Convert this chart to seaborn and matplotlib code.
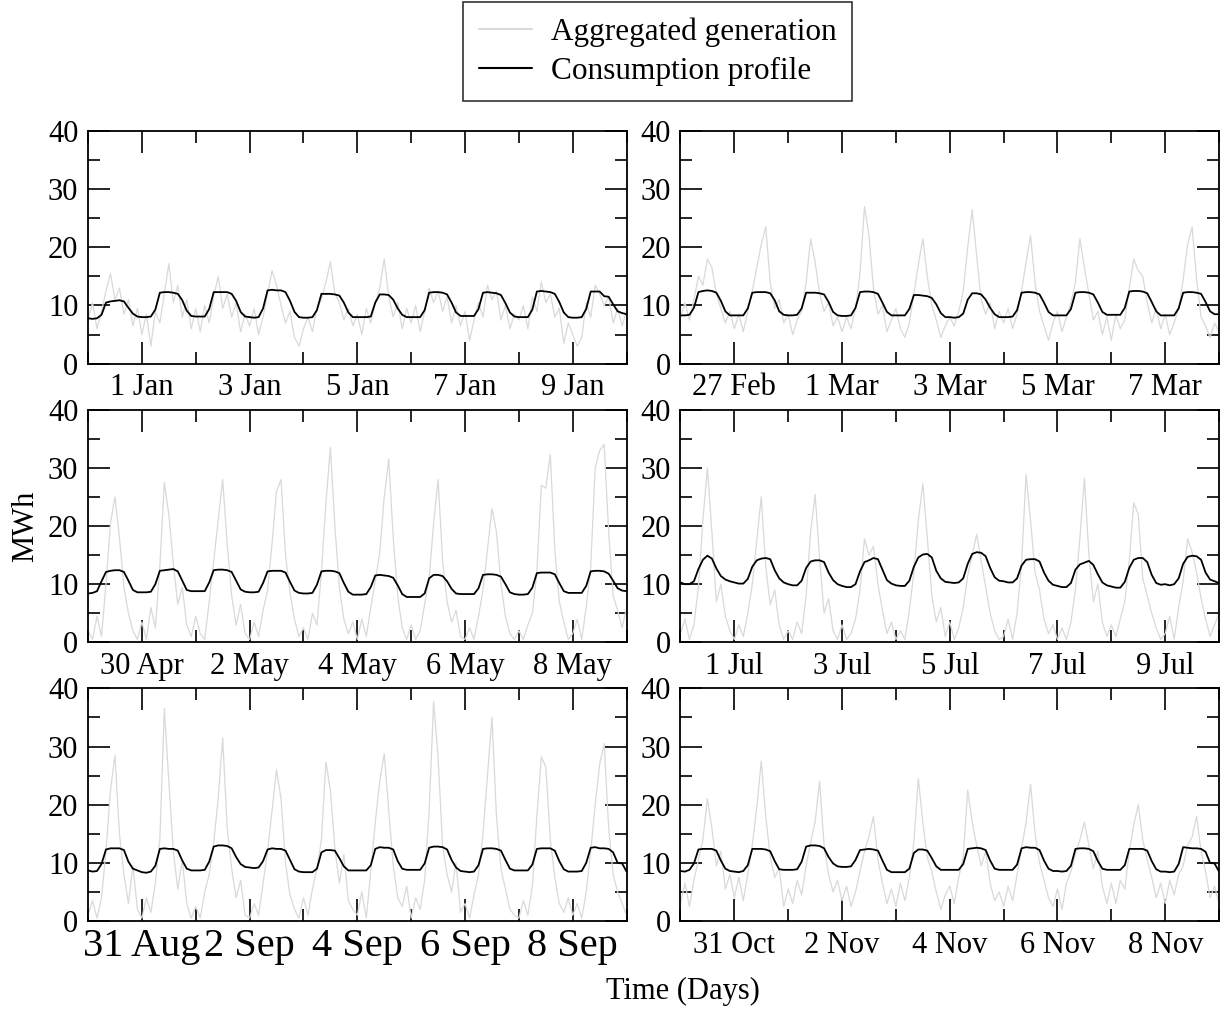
import numpy as np
import pandas as pd
import matplotlib
matplotlib.use("Agg")
import matplotlib.pyplot as plt
import matplotlib.dates as mdates
import seaborn as sns

# first day of each 10-day window, values are 2-hourly (12 per day + closing point)
starts = ["2009-12-31", "2010-02-26", "2010-04-29", "2010-06-30", "2010-08-30", "2010-10-30"]
series_names = ["Aggregated generation", "Consumption profile"]

jan_gen = [
    7.5, 10.5, 6.0, 9.0, 12.5, 15.5, 11.0, 13.0, 8.5, 11.0, 6.5, 9.5,
    5.0, 8.5, 3.0, 9.0, 7.0, 12.0, 17.2, 10.5, 13.5, 8.0, 11.0, 6.0,
    9.5, 5.5, 10.0, 7.0, 11.5, 15.0, 9.5, 12.0, 8.0, 10.5, 5.5, 8.5,
    6.5, 9.5, 5.0, 8.0, 12.0, 16.0, 13.5, 10.0, 7.0, 9.0, 4.5, 3.0,
    6.0, 8.0, 5.5, 9.5, 11.0, 14.0, 17.5, 12.0, 10.5, 7.5, 9.5, 6.5,
    8.5, 5.0, 9.5, 7.0, 10.5, 13.0, 18.0, 11.5, 8.0, 10.5, 6.0, 9.5,
    7.0, 10.0, 5.5, 9.0, 13.0, 10.5, 12.5, 9.0, 11.5, 7.0, 10.0, 6.5,
    9.0, 4.0, 7.5, 10.5, 8.0, 13.5, 11.0, 12.5, 7.5, 10.0, 6.0, 8.5,
    7.5, 10.0, 6.0, 11.5, 9.0, 14.0, 10.5, 12.0, 8.0, 9.5, 3.5, 7.0,
    5.0, 3.0, 4.5, 10.5, 8.0, 13.5, 12.0, 10.0, 11.5, 7.0, 9.5, 6.5,
    9.0,
]
jan_cons = [
    7.8, 7.7, 7.8, 8.4, 10.5, 10.7, 10.8, 10.9, 10.7, 9.6, 8.6, 8.1,
    8.0, 8.0, 8.1, 9.3, 12.2, 12.3, 12.3, 12.2, 12.0, 10.9, 9.1, 8.2,
    8.1, 8.1, 8.1, 9.4, 12.3, 12.3, 12.3, 12.3, 12.0, 10.8, 8.9, 8.1,
    8.0, 7.9, 8.0, 9.5, 12.6, 12.7, 12.6, 12.6, 12.3, 10.8, 8.9, 8.0,
    7.9, 7.9, 8.0, 9.2, 12.0, 12.0, 12.0, 11.9, 11.7, 10.5, 8.8, 8.0,
    8.0, 8.0, 8.0, 8.1, 10.5, 11.9, 11.9, 11.8, 11.0, 9.5, 8.4, 8.0,
    8.0, 8.0, 8.0, 9.2, 12.2, 12.3, 12.3, 12.2, 11.9, 10.5, 8.8, 8.2,
    8.2, 8.2, 8.2, 9.4, 12.2, 12.3, 12.2, 12.1, 11.8, 10.4, 8.8, 8.1,
    8.0, 8.0, 8.0, 9.3, 12.4, 12.5, 12.4, 12.3, 12.0, 10.6, 8.8, 8.0,
    7.9, 7.9, 8.0, 9.4, 12.4, 12.4, 12.4, 11.6, 11.5, 10.2, 9.0, 8.7,
    8.5,
]

feb_gen = [
    8.0, 10.5, 7.5, 11.0, 15.0, 13.5, 18.0, 16.5, 12.0, 9.5, 7.0, 9.0,
    6.0, 8.5, 5.5, 9.0, 12.5, 16.5, 20.5, 23.5, 14.0, 9.5, 11.0, 7.0,
    8.5, 5.0, 7.5, 9.0, 14.0, 21.5, 17.5, 12.0, 9.0, 10.5, 6.5, 8.0,
    5.5, 8.0, 6.0, 9.5, 15.5, 27.0, 22.0, 13.0, 8.5, 10.0, 5.5, 7.5,
    9.5, 6.0, 4.5, 7.0, 12.0, 17.0, 21.5, 15.0, 10.0, 7.5, 4.5, 6.5,
    8.0, 6.5, 9.0, 12.5, 20.0, 26.5, 18.5, 11.0, 8.5, 10.5, 6.0, 9.0,
    7.0, 9.5, 6.0, 8.5, 12.5, 17.5, 22.0, 14.0, 9.0, 6.5, 4.0, 7.0,
    9.0, 5.5, 8.0, 10.5, 14.0, 21.5, 16.5, 12.0, 7.5, 9.0, 5.0, 8.0,
    4.0, 8.5, 6.0, 7.5, 13.0, 18.0, 16.0, 15.0, 10.5, 7.0, 9.5, 6.0,
    8.5, 5.0, 7.0, 9.5, 14.5, 20.5, 23.5, 14.5, 8.0, 6.5, 4.5, 7.0,
    5.5,
]
feb_cons = [
    8.3, 8.3, 8.4, 9.6, 12.3, 12.5, 12.6, 12.5, 12.2, 10.8, 9.0, 8.3,
    8.3, 8.3, 8.3, 9.5, 12.2, 12.3, 12.3, 12.3, 12.1, 10.9, 9.0, 8.4,
    8.3, 8.3, 8.4, 9.5, 12.2, 12.2, 12.2, 12.1, 11.9, 10.6, 8.9, 8.3,
    8.2, 8.2, 8.3, 9.6, 12.3, 12.4, 12.4, 12.3, 12.0, 10.5, 8.9, 8.3,
    8.3, 8.3, 8.3, 9.4, 11.8, 11.8, 11.7, 11.6, 11.3, 10.2, 8.7, 8.0,
    8.0, 7.9, 8.0, 8.6, 11.0, 12.1, 12.1, 11.9, 11.0, 9.6, 8.5, 8.0,
    8.0, 8.0, 8.1, 9.2, 12.2, 12.3, 12.3, 12.2, 11.9, 10.5, 8.9, 8.3,
    8.3, 8.3, 8.3, 9.4, 12.2, 12.3, 12.3, 12.2, 11.9, 10.5, 8.9, 8.4,
    8.4, 8.4, 8.4, 9.6, 12.4, 12.5, 12.5, 12.4, 12.1, 10.6, 9.0, 8.3,
    8.3, 8.3, 8.3, 9.5, 12.2, 12.3, 12.3, 12.2, 12.0, 10.6, 9.0, 8.5,
    8.5,
]

may_gen = [
    2.0, 0.5, 4.5, 1.0, 10.0, 20.5, 25.0, 18.0, 9.5, 5.0, 2.0, 0.5,
    3.5, 0.5, 6.0, 2.5, 13.0, 27.5, 22.0, 13.5, 6.5, 9.5, 3.0, 1.0,
    4.5, 1.5, 0.5, 7.0, 14.0, 21.0, 28.0, 17.0, 8.0, 3.0, 6.5, 1.5,
    0.5, 3.5, 1.0, 5.5, 9.0, 17.0, 26.0, 28.0, 15.0, 8.5, 4.0, 1.0,
    2.5, 0.5, 5.0, 3.0, 12.0, 24.0, 33.5, 20.0, 9.5, 4.0, 1.5, 3.5,
    0.5, 4.0, 1.0, 6.0, 10.5, 15.5, 25.0, 31.5, 18.0, 8.0, 2.5, 0.5,
    3.0, 0.5, 2.0, 6.5, 11.0, 20.5, 28.0, 14.0, 7.0, 3.5, 5.5, 1.0,
    0.5, 2.5, 0.5, 4.5, 9.0, 16.0, 23.0, 19.0, 10.0, 4.5, 1.5, 0.5,
    2.0, 0.5, 3.0, 5.0, 12.0, 27.0, 26.5, 32.3, 16.0, 7.0, 3.5, 0.5,
    1.5, 4.0, 0.5, 6.0, 13.0, 30.0, 33.0, 34.0, 19.0, 8.0, 5.5, 2.5,
    6.0,
]
may_cons = [
    8.4, 8.5, 8.8, 10.5, 12.1, 12.3, 12.4, 12.4, 12.1, 10.6, 9.0, 8.6,
    8.6, 8.6, 8.7, 10.0, 12.3, 12.4, 12.5, 12.6, 12.2, 10.6, 9.0, 8.8,
    8.8, 8.8, 8.8, 10.3, 12.4, 12.5, 12.5, 12.4, 12.1, 10.6, 9.1, 8.7,
    8.6, 8.6, 8.7, 10.2, 12.2, 12.3, 12.3, 12.3, 12.0, 10.4, 8.9, 8.5,
    8.4, 8.4, 8.5, 9.9, 12.2, 12.3, 12.3, 12.2, 11.9, 10.2, 8.7, 8.2,
    8.2, 8.2, 8.3, 9.5, 11.5, 11.6, 11.5, 11.4, 11.1, 9.8, 8.3, 7.8,
    7.8, 7.8, 7.8, 8.4, 11.0, 11.6, 11.6, 11.4, 10.5, 9.2, 8.4, 8.3,
    8.3, 8.3, 8.3, 9.3, 11.6, 11.7, 11.7, 11.6, 11.3, 10.0, 8.6, 8.3,
    8.2, 8.2, 8.3, 9.4, 11.9, 12.0, 12.0, 12.0, 11.7, 10.2, 8.8, 8.5,
    8.5, 8.5, 8.5, 9.7, 12.2, 12.3, 12.3, 12.2, 11.8, 10.6, 9.3, 8.9,
    8.8,
]

jul_gen = [
    1.5, 4.0, 0.5, 3.0, 9.5, 21.0, 30.0, 19.0, 7.0, 10.0, 4.5, 2.0,
    0.5, 3.0, 1.0, 5.0, 10.0, 17.5, 25.0, 13.0, 6.5, 9.0, 3.0, 0.5,
    2.0, 0.5, 3.5, 1.5, 8.0, 19.0, 25.4, 14.5, 5.0, 7.5, 2.0, 0.5,
    3.0, 0.5, 1.5, 4.0, 9.0, 17.8, 15.0, 16.5, 10.0, 5.5, 1.5, 3.5,
    0.5, 2.0, 0.5, 5.5, 12.0, 21.0, 27.3, 18.0, 8.0, 3.5, 6.0, 1.0,
    3.5, 0.5, 2.5, 6.0, 11.5, 15.0, 18.6, 14.0, 9.5, 5.0, 2.0, 0.5,
    1.0, 4.0, 0.5, 5.0, 13.5, 28.8, 21.0, 12.0, 9.0, 4.0, 1.5, 3.0,
    0.5, 2.5, 0.5, 3.5, 9.0, 18.0, 28.2, 15.0, 7.0, 10.0, 3.5, 1.0,
    3.0, 1.0, 4.0, 7.0, 14.0, 24.0, 22.0, 11.0, 8.0, 5.0, 2.5, 0.5,
    1.5, 4.5, 0.5, 6.0, 10.5, 17.8, 15.5, 12.0, 7.5, 4.0, 1.0, 3.0,
    5.0,
]
jul_cons = [
    10.3, 10.0, 10.0, 10.5, 12.6, 14.2, 14.9, 14.4, 12.7, 11.4, 10.8, 10.5,
    10.3, 10.1, 10.1, 10.9, 13.0, 14.1, 14.4, 14.5, 14.3, 12.4, 11.0, 10.3,
    10.0, 9.8, 9.8, 10.6, 12.8, 13.9, 14.1, 14.1, 13.8, 12.0, 10.7, 10.0,
    9.7, 9.5, 9.5, 10.0, 12.2, 13.8, 14.1, 14.5, 14.3, 12.5, 10.7, 10.1,
    9.8, 9.7, 9.7, 10.6, 13.0, 14.6, 15.1, 15.2, 14.6, 12.3, 11.0, 10.4,
    10.3, 10.2, 10.3, 11.0, 13.5, 15.2, 15.5, 15.4, 14.8, 12.8, 11.2, 10.6,
    10.5, 10.3, 10.3, 11.0, 13.2, 14.2, 14.3, 14.3, 13.9, 12.0, 10.6, 9.9,
    9.7, 9.5, 9.5, 10.2, 12.5, 13.4, 13.7, 14.0, 13.3, 11.7, 10.3, 9.8,
    9.6, 9.4, 9.4, 10.4, 12.8, 14.2, 14.5, 14.5, 13.8, 11.6, 10.2, 9.9,
    10.0, 9.8, 10.0, 11.0, 13.5, 14.7, 14.9, 14.8, 14.2, 12.0, 10.8, 10.5,
    10.2,
]

sep_gen = [
    1.0, 3.5, 0.5, 4.0, 12.0, 22.5, 28.5, 15.0, 8.0, 3.0, 9.5, 2.0,
    0.5, 4.0, 1.5, 6.5, 14.0, 36.5, 24.0, 12.0, 5.5, 10.5, 3.0, 0.5,
    2.5, 0.5, 5.0, 8.0, 13.5, 21.0, 31.5, 16.0, 9.0, 4.0, 7.0, 1.0,
    0.5, 3.0, 1.0, 6.5, 12.0, 19.0, 26.0, 21.0, 10.0, 4.5, 2.0, 0.5,
    4.0, 1.0, 5.5, 9.0, 14.0, 27.3, 22.5, 12.5, 6.5, 11.5, 3.5, 2.0,
    1.0, 5.0, 0.5, 8.5, 17.0, 24.0, 28.8, 19.0, 9.5, 4.0, 2.5, 6.0,
    0.5, 4.0, 2.0, 7.0, 19.0, 37.7, 28.0, 13.0, 8.0, 5.0, 10.0, 1.5,
    3.0, 0.5, 4.5, 8.0, 15.0, 25.0, 35.0, 18.0, 9.0, 5.5, 2.0, 1.0,
    0.5, 3.5, 1.0, 6.0, 18.0, 28.2, 26.5, 14.0, 7.5, 3.0, 1.5, 4.0,
    1.0, 3.0, 0.5, 5.0, 12.0, 20.0, 27.0, 30.5, 16.0, 8.0, 5.0, 3.0,
    1.0,
]
sep_cons = [
    8.7, 8.5, 8.6, 9.8, 12.3, 12.5, 12.5, 12.5, 12.2, 10.2, 9.0, 8.7,
    8.4, 8.3, 8.5, 9.5, 12.4, 12.5, 12.4, 12.4, 12.1, 10.4, 9.0, 8.7,
    8.7, 8.7, 8.8, 10.2, 12.8, 13.0, 13.0, 12.9, 12.5, 11.0, 9.8, 9.3,
    9.2, 9.1, 9.2, 10.3, 12.3, 12.5, 12.4, 12.4, 12.1, 10.5, 8.9, 8.5,
    8.4, 8.4, 8.4, 9.0, 11.8, 12.2, 12.2, 12.1, 10.8, 9.4, 8.7, 8.7,
    8.7, 8.7, 8.7, 9.6, 12.4, 12.7, 12.6, 12.6, 12.3, 10.3, 9.0, 8.8,
    8.8, 8.8, 8.8, 9.9, 12.6, 12.8, 12.8, 12.7, 12.3, 10.5, 9.2, 8.6,
    8.5, 8.4, 8.5, 9.6, 12.4, 12.5, 12.5, 12.4, 12.1, 10.5, 9.0, 8.7,
    8.7, 8.7, 8.7, 9.7, 12.4, 12.5, 12.5, 12.5, 12.1, 10.3, 8.9, 8.5,
    8.5, 8.5, 8.6, 10.0, 12.6, 12.7, 12.5, 12.5, 12.4, 11.8, 10.0, 9.9,
    8.5,
]

nov_gen = [
    3.0, 6.5, 2.5, 7.0, 10.5, 14.0, 21.0, 16.0, 9.5, 12.0, 5.5, 8.0,
    4.0, 7.5, 3.5, 8.0, 13.0, 19.5, 27.5, 18.0, 11.0, 7.5, 9.0, 2.5,
    5.5, 3.0, 7.0, 4.5, 9.5, 13.5, 17.0, 24.0, 13.0, 8.0, 5.0, 7.0,
    3.5, 6.0, 2.5, 5.0, 8.5, 12.0, 14.5, 18.0, 10.5, 6.5, 3.0, 5.5,
    2.5, 6.5, 3.5, 7.5, 13.5, 24.5, 17.0, 11.0, 8.5, 5.0, 2.0, 4.5,
    6.0, 3.0, 7.5, 11.0, 22.5, 17.0, 13.0, 9.5, 12.0, 6.5, 3.5, 5.0,
    2.5, 6.0, 3.5, 8.0, 12.5, 17.0, 23.5, 15.0, 10.0, 7.0, 4.0, 2.5,
    5.5, 2.0, 6.5, 8.5, 11.5, 14.0, 17.0, 13.0, 9.0, 12.0, 6.0, 3.0,
    6.5, 3.0, 7.0, 5.5, 12.0, 16.5, 20.0, 14.0, 10.5, 7.5, 4.0, 6.5,
    3.0, 7.0, 4.5, 8.0, 9.5, 13.0, 14.5, 18.0, 12.0, 8.5, 4.0, 6.0,
    3.0,
]
nov_cons = [
    8.6, 8.5, 8.8, 9.9, 12.3, 12.4, 12.4, 12.4, 12.1, 10.4, 9.0, 8.6,
    8.5, 8.4, 8.6, 9.6, 12.4, 12.4, 12.4, 12.3, 12.0, 10.3, 8.9, 8.8,
    8.8, 8.8, 8.9, 10.2, 12.8, 13.0, 13.0, 12.9, 12.5, 11.0, 9.9, 9.4,
    9.3, 9.3, 9.4, 10.5, 12.2, 12.3, 12.4, 12.3, 12.1, 10.4, 8.8, 8.4,
    8.4, 8.4, 8.4, 9.0, 11.7, 12.3, 12.3, 12.1, 10.8, 9.4, 8.8, 8.8,
    8.8, 8.8, 8.8, 9.8, 12.4, 12.5, 12.6, 12.5, 12.2, 10.4, 9.0, 8.8,
    8.8, 8.8, 8.8, 9.7, 12.5, 12.7, 12.6, 12.6, 12.2, 10.4, 9.0, 8.6,
    8.6, 8.5, 8.6, 9.5, 12.4, 12.5, 12.5, 12.4, 12.0, 10.3, 9.0, 8.8,
    8.8, 8.8, 8.8, 9.6, 12.4, 12.4, 12.4, 12.4, 12.1, 10.3, 8.9, 8.5,
    8.5, 8.4, 8.5, 9.8, 12.7, 12.6, 12.5, 12.5, 12.4, 11.9, 10.0, 9.9,
    8.5,
]

panels = [
    (starts[0], jan_gen, jan_cons),
    (starts[1], feb_gen, feb_cons),
    (starts[2], may_gen, may_cons),
    (starts[3], jul_gen, jul_cons),
    (starts[4], sep_gen, sep_cons),
    (starts[5], nov_gen, nov_cons),
]

GREY = "#d9d9d9"
FS = 22

sns.set_style("ticks")
plt.rcParams["font.family"] = ["Liberation Serif", "DejaVu Serif"]
plt.rcParams.update({
    "axes.linewidth": 1.3,
    "text.color": "black",
    "axes.labelcolor": "black",
    "xtick.color": "black",
    "ytick.color": "black",
})

fig, axes = plt.subplots(3, 2, figsize=(12.21, 10.11), dpi=100)
fig.subplots_adjust(left=0.0721, right=0.9984, bottom=0.089, top=0.8704,
                    wspace=0.1, hspace=0.198)

for i, (ax, (start, gen, cons)) in enumerate(zip(axes.flatten(), panels)):
    t = pd.date_range(start, periods=len(gen), freq="2h")
    df = pd.DataFrame({"time": t, "gen": gen, "cons": cons})

    sns.lineplot(data=df, x="time", y="gen", color=GREY, linewidth=0.9,
                 ax=ax, label=series_names[0])
    sns.lineplot(data=df, x="time", y="cons", color="black", linewidth=1.3,
                 ax=ax, label=series_names[1])
    if i == 0:
        handles, labels = ax.get_legend_handles_labels()
    ax.get_legend().remove()

    tnum = mdates.date2num(t.to_pydatetime())
    ax.set_xlim(tnum[0], tnum[-1])
    ax.set_ylim(0, 40)
    ax.set_xticks(tnum[12::24])
    ax.set_xticks(tnum[::12], minor=True)
    ax.xaxis.set_major_formatter(mdates.DateFormatter("%-d %b"))
    ax.set_yticks([0, 10, 20, 30, 40])
    ax.set_yticks([5, 15, 25, 35], minor=True)
    ax.set_xlabel("")
    ax.set_ylabel("")

    ax.tick_params(which="both", direction="in", top=True, right=True,
                   width=1.2, colors="black")
    ax.tick_params(which="major", length=16, labelsize=FS, pad=7)
    ax.tick_params(which="minor", length=8.5)
    if i == 4:
        # the bottom-left panel uses a larger date font in the original
        ax.tick_params(axis="x", which="major", labelsize=29, pad=5)
    for spine in ax.spines.values():
        spine.set_linewidth(1.3)
        spine.set_color("black")

fig.text(0.021, 0.479, "MWh", rotation=90, fontsize=FS, ha="center", va="center")
fig.text(0.559, 0.019, "Time (Days)", fontsize=FS, ha="center", va="center")

leg = fig.legend(handles, labels, loc="upper center", bbox_to_anchor=(0.5385, 0.998),
                 fontsize=FS + 0.5, frameon=True, fancybox=False, edgecolor="black",
                 handlelength=1.7, handletextpad=0.6, borderpad=0.5, labelspacing=0.3,
                 borderaxespad=0.0)
leg.get_frame().set_linewidth(1.2)
for line in leg.get_lines():
    line.set_linewidth(1.5)

fig.savefig("out.png", dpi=100)
